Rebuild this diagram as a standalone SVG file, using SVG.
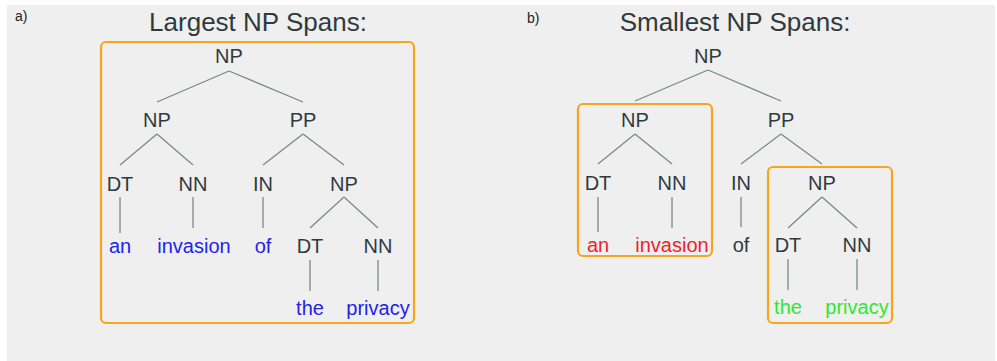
<svg xmlns="http://www.w3.org/2000/svg" width="997" height="361" viewBox="0 0 997 361">
<style>
.lbl{font-family:"Liberation Sans","DejaVu Sans",sans-serif;font-size:20px;fill:#2f3a3e;text-anchor:middle}
.ttl{font-family:"Liberation Sans","DejaVu Sans",sans-serif;font-size:26px;fill:#2f3a3e;text-anchor:middle}
.tag{font-family:"Liberation Sans","DejaVu Sans",sans-serif;font-size:14px;fill:#222}
.w{font-family:"Liberation Sans","DejaVu Sans",sans-serif;font-size:20px;text-anchor:middle}
.blue{fill:#2323e8}.red{fill:#f01e2c}.green{fill:#2fe82f}.dark{fill:#2f3a3e}
.box{fill:none;stroke:#f7a61c;stroke-width:2.2}
#connectors line{stroke:#7d8787;stroke-width:1.3}
</style>
<rect x="7" y="5" width="988" height="356" fill="#efefef"/>
<text class="tag" x="15" y="21">a)</text>
<text class="tag" x="527" y="23">b)</text>
<text class="ttl" x="258" y="31">Largest NP Spans:</text>
<text class="ttl" x="735" y="31">Smallest NP Spans:</text>

<g id="spans">
<rect class="box" x="101" y="42" width="313" height="281" rx="5"/>
<rect class="box" x="578" y="104" width="134" height="152" rx="5"/>
<rect class="box" x="768" y="167" width="124" height="156" rx="5"/>
</g>

<g id="connectors">
<line x1="229" y1="71" x2="157" y2="102"/>
<line x1="229" y1="71" x2="303" y2="102"/>
<line x1="157" y1="134" x2="120" y2="165"/>
<line x1="157" y1="134" x2="193" y2="165"/>
<line x1="303" y1="134" x2="263" y2="165"/>
<line x1="303" y1="134" x2="344" y2="165"/>
<line x1="120" y1="197" x2="120" y2="233"/>
<line x1="193" y1="197" x2="193" y2="228"/>
<line x1="263" y1="197" x2="263" y2="228"/>
<line x1="344" y1="197" x2="310" y2="228"/>
<line x1="344" y1="197" x2="378" y2="228"/>
<line x1="310" y1="260" x2="310" y2="291"/>
<line x1="378" y1="260" x2="378" y2="291"/>

<line x1="708" y1="70" x2="635" y2="101"/>
<line x1="708" y1="70" x2="781" y2="101"/>
<line x1="635" y1="134" x2="598" y2="164"/>
<line x1="635" y1="134" x2="672" y2="164"/>
<line x1="781" y1="134" x2="741" y2="164"/>
<line x1="781" y1="134" x2="822" y2="164"/>
<line x1="598" y1="197" x2="598" y2="232"/>
<line x1="672" y1="197" x2="672" y2="228"/>
<line x1="741" y1="197" x2="741" y2="227"/>
<line x1="822" y1="197" x2="788" y2="228"/>
<line x1="822" y1="197" x2="857" y2="228"/>
<line x1="788" y1="259" x2="788" y2="290"/>
<line x1="857" y1="259" x2="857" y2="290"/>
</g>

<g id="a-np-root"><text class="lbl" x="229" y="63">NP</text></g>
<g id="a-np"><text class="lbl" x="157" y="127">NP</text></g>
<g id="a-pp"><text class="lbl" x="303" y="127">PP</text></g>
<g id="a-dt1"><text class="lbl" x="120" y="191">DT</text></g>
<g id="a-nn1"><text class="lbl" x="193" y="191">NN</text></g>
<g id="a-in"><text class="lbl" x="263" y="191">IN</text></g>
<g id="a-np2"><text class="lbl" x="344" y="191">NP</text></g>
<g id="a-an"><text class="w blue" x="120" y="253">an</text></g>
<g id="a-invasion"><text class="w blue" x="194" y="253">invasion</text></g>
<g id="a-of"><text class="w blue" x="263" y="253">of</text></g>
<g id="a-dt2"><text class="lbl" x="310" y="253">DT</text></g>
<g id="a-nn2"><text class="lbl" x="378" y="253">NN</text></g>
<g id="a-the"><text class="w blue" x="310" y="315">the</text></g>
<g id="a-privacy"><text class="w blue" x="378" y="315">privacy</text></g>

<g id="b-np-root"><text class="lbl" x="708" y="63">NP</text></g>
<g id="b-np"><text class="lbl" x="635" y="127">NP</text></g>
<g id="b-pp"><text class="lbl" x="781" y="127">PP</text></g>
<g id="b-dt1"><text class="lbl" x="598" y="190">DT</text></g>
<g id="b-nn1"><text class="lbl" x="672" y="190">NN</text></g>
<g id="b-in"><text class="lbl" x="741" y="190">IN</text></g>
<g id="b-np2"><text class="lbl" x="822" y="190">NP</text></g>
<g id="b-an"><text class="w red" x="598" y="252">an</text></g>
<g id="b-invasion"><text class="w red" x="672" y="252">invasion</text></g>
<g id="b-of"><text class="w dark" x="741" y="252">of</text></g>
<g id="b-dt2"><text class="lbl" x="788" y="252">DT</text></g>
<g id="b-nn2"><text class="lbl" x="857" y="252">NN</text></g>
<g id="b-the"><text class="w green" x="788" y="314">the</text></g>
<g id="b-privacy"><text class="w green" x="857" y="314">privacy</text></g>
</svg>
